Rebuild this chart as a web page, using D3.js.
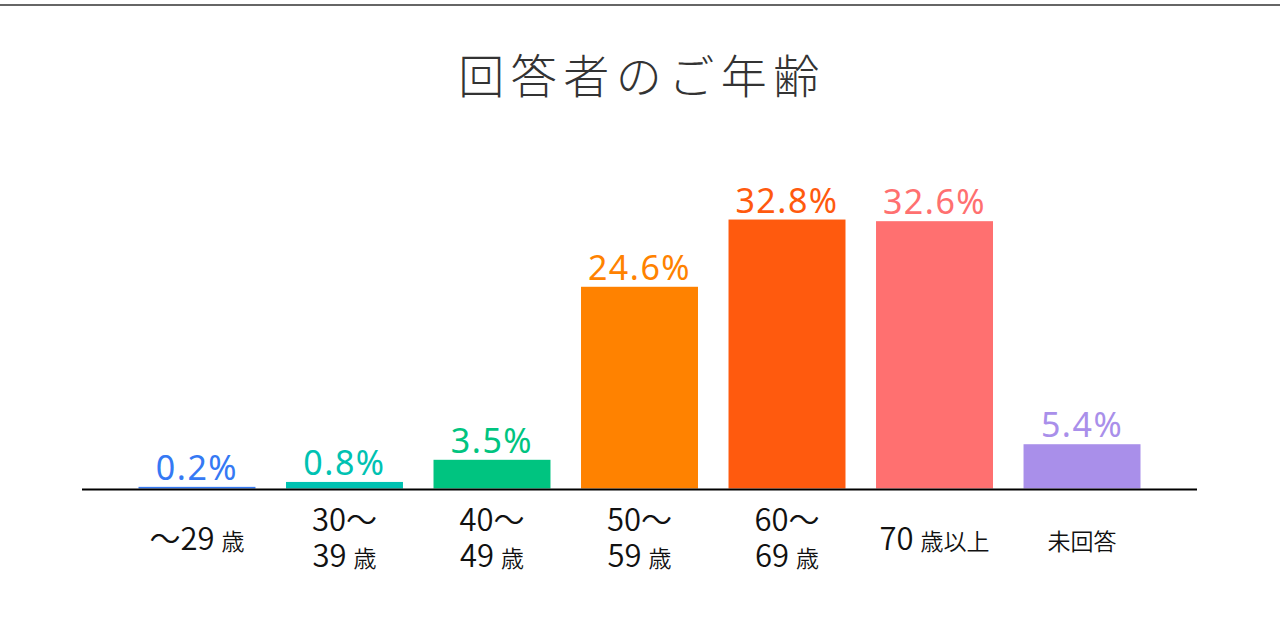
<!DOCTYPE html>
<html>
<head>
<meta charset="utf-8">
<script src="https://cdn.jsdelivr.net/npm/d3@7"></script>
<style>
  html, body { margin: 0; padding: 0; background: #fff; }
  svg { display: block; }
</style>
</head>
<body>
<div id="chart"></div>
<script>
// chart data
const title = '回答者のご年齢';
const categories = ['～29 歳', '30～\n39 歳', '40～\n49 歳', '50～\n59 歳', '60～\n69 歳', '70 歳以上', '未回答'];
const values = [0.2, 0.8, 3.5, 24.6, 32.8, 32.6, 5.4];
const barColors = ['#3579f4', '#00c2b2', '#00c480', '#ff8200', '#ff5a0e', '#ff7070', '#a98fea'];

const width = 1280;
const height = 640;
const margin = { left: 82, right: 83, baseline: 488.5 };

const svg = d3.select('#chart')
  .append('svg')
  .attr('width', width)
  .attr('height', height);

// top rule
svg.append('rect')
  .attr('x', 0).attr('y', 4)
  .attr('width', width).attr('height', 2)
  .attr('fill', '#666');

svg.append('text')
  .attr('x', width / 2 + 2)
  .attr('y', 93)
  .attr('text-anchor', 'middle')
  .attr('font-family', '"Noto Sans CJK JP", sans-serif')
  .attr('font-weight', 300)
  .attr('font-size', 46)
  .attr('letter-spacing', 6.5)
  .attr('fill', '#333')
  .text(title);

const x = d3.scaleBand()
  .domain(categories)
  .range([margin.left, width - margin.right])
  .paddingInner(0.207)
  .paddingOuter(0.383);

const y = d3.scaleLinear()
  .domain([0, 40])
  .range([margin.baseline, margin.baseline - 328]);

const bars = svg.append('g');
bars.selectAll('rect')
  .data(values)
  .join('rect')
  .attr('x', (d, i) => x(categories[i]))
  .attr('y', d => y(d))
  .attr('width', x.bandwidth())
  .attr('height', d => y(0) - y(d))
  .attr('fill', (d, i) => barColors[i]);

bars.selectAll('text')
  .data(values)
  .join('text')
  .attr('x', (d, i) => x(categories[i]) + x.bandwidth() / 2)
  .attr('y', d => y(d) - 7)
  .attr('text-anchor', 'middle')
  .attr('font-family', '"Noto Sans", sans-serif')
  .attr('font-size', 34)
  .attr('letter-spacing', 1.5)
  .attr('fill', (d, i) => barColors[i])
  .text(d => d.toFixed(1) + '%');

// baseline
svg.append('line')
  .attr('x1', x.range()[0]).attr('x2', x.range()[1])
  .attr('y1', y(0) + 1).attr('y2', y(0) + 1)
  .attr('stroke', '#000')
  .attr('stroke-width', 2);

// category labels: digits, tilde and spaces big, kanji small
// one <text> per category, each line a run of tspans
const labels = svg.append('g')
  .attr('font-family', '"Noto Sans CJK JP", sans-serif')
  .attr('font-weight', 350)
  .attr('fill', '#111');

categories.forEach(cat => {
  const lines = cat.split('\n');
  const cx = x(cat) + x.bandwidth() / 2;
  const baselines = lines.length === 1 ? [550] : [531, 567];
  const t = labels.append('text')
    .attr('text-anchor', 'middle');
  lines.forEach((line, li) => {
    const parts = line.match(/[0-9～ ]+|[^0-9～ ]+/g);
    parts.forEach((p, pi) => {
      const span = t.append('tspan')
        .attr('font-size', /[0-9～ ]/.test(p) ? 31 : 23)
        .text(p);
      if (pi === 0) span.attr('x', cx).attr('y', baselines[li]);
    });
  });
});
</script>
</body>
</html>
